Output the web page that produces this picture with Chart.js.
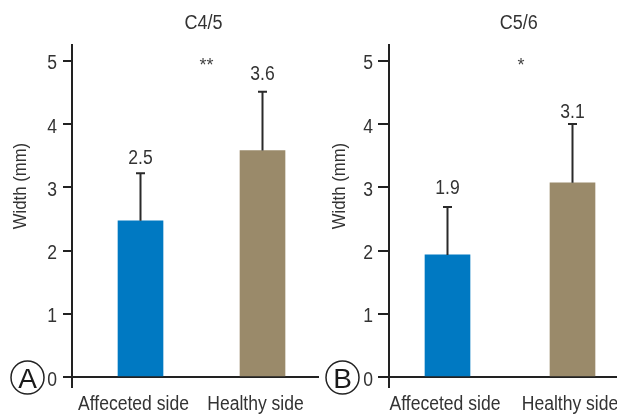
<!DOCTYPE html>
<html><head><meta charset="utf-8">
<script src="https://cdn.jsdelivr.net/npm/chart.js@4"></script>
<style>
body{margin:0;background:#fff;width:617px;height:416px;overflow:hidden;position:relative}
canvas{position:absolute;top:0}
</style>
</head><body>
<canvas id="c1" width="320" height="416" style="left:0"></canvas>
<canvas id="c2" width="297" height="416" style="left:320px"></canvas>
<script>
// ---- data ----
const categories = ['Affeceted side', 'Healthy side'];
const c45Mean = [2.47, 3.58];
const c45SD = [0.75, 0.93];
const c56Mean = [1.93, 3.07];
const c56SD = [0.76, 0.93];
const yTicks = [0, 1, 2, 3, 4, 5];
const panelTitles = ['C4/5', 'C5/6'];
const significance = ['**', '*'];
const panelLetters = ['A', 'B'];
const yAxisTitle = 'Width (mm)';
const barColors = ['#0079C2', '#9A8A6A'];

const FONT = '"Liberation Sans", Arial, sans-serif';
const TXT = '#333333';
const AX = '#222222';
const SX = 0.9; // horizontal condensing of text

function txt(ctx, s, x, y, size, align, sx) {
  ctx.save();
  ctx.translate(x, y);
  ctx.scale(sx, 1);
  ctx.font = size + 'px ' + FONT;
  ctx.textAlign = align;
  ctx.textBaseline = 'alphabetic';
  ctx.fillText(s, 0, 0);
  ctx.restore();
}

function makeChart(id, means, sds, cfg) {
  const overlay = {
    id: 'overlay',
    afterDatasetsDraw(chart) {
      const ctx = chart.ctx, ys = chart.scales.y;
      const meta = chart.getDatasetMeta(0);
      ctx.save();
      ctx.strokeStyle = '#2a2a2a';
      ctx.lineWidth = 2;
      ctx.fillStyle = TXT;
      meta.data.forEach((bar, i) => {
        const base = ys.getPixelForValue(means[i]);
        const top = ys.getPixelForValue(means[i] + sds[i]);
        ctx.beginPath();
        ctx.moveTo(bar.x, base); ctx.lineTo(bar.x, top);
        ctx.moveTo(bar.x - 4.5, top); ctx.lineTo(bar.x + 4.5, top);
        ctx.stroke();
        txt(ctx, means[i].toFixed(1), bar.x, top - cfg.valueGap[i], 19.5, 'center', SX);
      });
      ctx.restore();
    },
    afterDraw(chart) {
      const ctx = chart.ctx, xs = chart.scales.x, ys = chart.scales.y, ca = chart.chartArea;
      ctx.save();
      // y axis extension below zero
      ctx.strokeStyle = AX; ctx.lineWidth = 2;
      ctx.beginPath(); ctx.moveTo(ca.left, ca.bottom); ctx.lineTo(ca.left, ca.bottom + 11); ctx.stroke();
      ctx.fillStyle = TXT;
      // y tick labels
      yTicks.forEach(v => {
        txt(ctx, String(v), ca.left - cfg.tickLen - cfg.tickGap, ys.getPixelForValue(v) + 8.5, 19.5, 'right', SX);
      });
      // x category labels
      categories.forEach((c, i) => {
        txt(ctx, c, xs.getPixelForValue(i) + cfg.labelOffset, 410, 19.5, 'center', SX);
      });
      // panel title
      txt(ctx, cfg.title, xs.getPixelForValue(cfg.titleX), 29, 20, 'center', SX);
      // significance stars
      ctx.fillStyle = '#444';
      txt(ctx, cfg.star, xs.getPixelForValue(cfg.starX), 71, 18, 'center', 1);
      ctx.fillStyle = TXT;
      // y axis title
      ctx.save();
      ctx.translate(cfg.yTitleX, 186);
      ctx.rotate(-Math.PI / 2);
      txt(ctx, yAxisTitle, 0, 7, 19, 'center', 0.88);
      ctx.restore();
      // circled panel letter
      ctx.strokeStyle = AX; ctx.lineWidth = 1.5;
      ctx.beginPath(); ctx.arc(cfg.circleX, 377.5, 16.5, 0, Math.PI * 2); ctx.stroke();
      ctx.fillStyle = '#1a1a1a';
      txt(ctx, cfg.letter, cfg.circleX, 377.5 + 10, 28, 'center', 1);
      ctx.restore();
    }
  };

  return new Chart(document.getElementById(id), {
    type: 'bar',
    data: {
      datasets: [{
        data: means.map((m, i) => ({ x: i, y: m })),
        backgroundColor: barColors,
        borderWidth: 0,
        barThickness: 45
      }]
    },
    options: {
      responsive: false,
      animation: false,
      devicePixelRatio: 1,
      layout: { padding: { top: 45, right: cfg.padRight, left: 0, bottom: 0 } },
      plugins: { legend: { display: false }, tooltip: { enabled: false }, title: { display: false } },
      scales: {
        x: {
          type: 'linear',
          bounds: 'data',
          offset: false,
          min: cfg.xMin, max: cfg.xMax,
          afterBuildTicks: s => { s.ticks = categories.map((c, i) => ({ value: i })); },
          afterFit: s => { s.height = 39; },
          ticks: { display: false },
          grid: { display: false, drawTicks: false },
          border: { display: true, color: AX, width: 2 }
        },
        y: {
          bounds: 'data',
          min: 0, max: 5.25,
          afterBuildTicks: s => { s.ticks = yTicks.map(v => ({ value: v })); },
          afterFit: s => { s.width = cfg.yWidth; },
          ticks: { display: false },
          grid: { drawOnChartArea: false, drawTicks: true, tickLength: cfg.tickLen, color: AX, lineWidth: 2 },
          border: { display: true, color: AX, width: 2 }
        }
      }
    },
    plugins: [overlay]
  });
}

makeChart('c1', c45Mean, c45SD, {
  xMin: -0.5615, xMax: 1.4549, yWidth: 72, padRight: 2, labelOffset: -7,
  tickLen: 9, tickGap: 6,
  title: panelTitles[0], titleX: 0.516, star: significance[0], starX: 0.541,
  yTitleX: 19, circleX: 27.5, letter: panelLetters[0], valueGap: [9, 12]
});
makeChart('c2', c56Mean, c56SD, {
  xMin: -0.468, xMax: 1.356, yWidth: 69, padRight: 0, labelOffset: -2.5,
  tickLen: 11, tickGap: 5,
  title: panelTitles[1], titleX: 0.570, star: significance[1], starX: 0.588,
  yTitleX: 18, circleX: 22.5, letter: panelLetters[1], valueGap: [13, 6]
});
</script>
</body></html>
